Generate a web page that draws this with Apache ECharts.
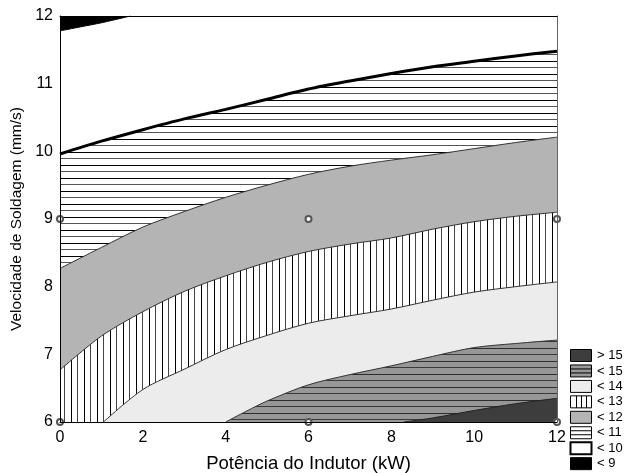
<!DOCTYPE html>
<html>
<head>
<meta charset="utf-8">
<script src="https://cdn.jsdelivr.net/npm/echarts@6/dist/echarts.min.js"></script>
<style>html,body{margin:0;padding:0;background:#fff}#c{width:624px;height:473px}</style>
</head>
<body>
<div id="c"></div>
<script>
// ---- data ----
const xTicks = [0, 2, 4, 6, 8, 10, 12];
const yTicks = [6, 7, 8, 9, 10, 11, 12];
// contour boundaries [power kW, speed mm/s]
const b9  = [[0,11.78],[0.5,11.84],[1,11.9],[1.7,12.0]];
const b10 = [[0,9.96],[1,10.15],[2,10.32],[3,10.48],[4,10.62],[5,10.77],[6,10.92],[7,11.04],[8,11.15],[9,11.25],[10,11.33],[11,11.41],[12,11.48]];
const b11 = [[0,8.27],[1,8.58],[2,8.88],[3,9.11],[4,9.32],[5,9.5],[6,9.66],[7,9.78],[8,9.87],[9,9.95],[10,10.04],[11,10.13],[12,10.21]];
const b12 = [[0,6.77],[1,7.27],[2,7.63],[3,7.93],[4,8.16],[5,8.36],[6,8.52],[7,8.63],[8,8.72],[9,8.85],[10,8.96],[11,9.04],[12,9.1]];
const b13 = [[1.05,6.0],[2,6.48],[3,6.78],[4,7.07],[5,7.28],[6,7.46],[7,7.57],[8,7.67],[9,7.8],[10,7.92],[11,8.0],[12,8.07]];
const b14 = [[4,6.0],[4.5,6.16],[5,6.31],[6,6.55],[7,6.7],[8,6.83],[9,6.97],[10,7.1],[11,7.16],[12,7.21]];
const b15 = [[8.3,6.0],[9,6.06],[10,6.17],[11,6.27],[12,6.35]];
const designPts = [[0,9],[6,9],[12,9],[0,6],[6,6],[12,6]];
const legendLabels = ['> 15','< 15','< 14','< 13','< 12','< 11','< 10','< 9'];

// ---- patterns ----
function pattern(bg, lineA, lineB, dir, posA, posB) {
  const c = document.createElement('canvas');
  c.width = 13; c.height = 13;
  const g = c.getContext('2d');
  g.fillStyle = bg; g.fillRect(0,0,13,13);
  g.fillStyle = lineA;
  if (dir === 'h') g.fillRect(0,posA,13,1); else g.fillRect(posA,0,1,13);
  g.fillStyle = lineB;
  if (dir === 'h') g.fillRect(0,posB,13,1); else g.fillRect(posB,0,1,13);
  return {image: c, repeat: 'repeat'};
}
const hatchH = pattern('#ffffff', '#000000', '#555555', 'h', 9, 2);
const hatchV = pattern('#ffffff', '#000000', '#444444', 'v', 6, 12);
const hatchMid = pattern('#979797', '#2e2e2e', '#3a3a3a', 'h', 10, 3);

const FONT = 'Liberation Sans, Arial, sans-serif';

function band(name, data, fill, origin, lineColor, lineWidth) {
  return {
    name: name, type: 'line', data: data, symbol: 'none',
    smooth: 0.3, clip: true,
    lineStyle: {color: lineColor, width: lineWidth},
    areaStyle: {color: fill, opacity: 1, origin: origin},
    emphasis: {disabled: true}, silent: true, animation: false
  };
}

const chart = echarts.init(document.getElementById('c'), null, {renderer: 'canvas'});

// legend boxes (graphic)
const legendGraphics = [];
const lx = 570, lw = 21, lh = 12;
const fills = ['#3d3d3d', '#979797', '#ececec', '#ffffff', '#b4b4b4', '#ffffff', '#ffffff', '#000000'];
legendLabels.forEach(function (lab, i) {
  const top = 349 + i * 15.45;
  const kids = [];
  kids.push({type: 'rect', shape: {x: lx + 0.5, y: top + 0.5, width: lw, height: lh},
    style: {fill: fills[i], stroke: '#000', lineWidth: i === 6 ? 2 : 1}});
  if (i === 1 || i === 5) {
    [4, 8].forEach(function (dy) {
      kids.push({type: 'line', shape: {x1: lx + 0.5, y1: top + dy + 0.5, x2: lx + lw + 0.5, y2: top + dy + 0.5},
        style: {stroke: '#000', lineWidth: 1}});
    });
  }
  if (i === 3) {
    [6, 11, 16].forEach(function (dx) {
      kids.push({type: 'line', shape: {x1: lx + dx + 0.5, y1: top + 0.5, x2: lx + dx + 0.5, y2: top + lh + 0.5},
        style: {stroke: '#000', lineWidth: 1}});
    });
  }
  kids.push({type: 'text', x: 597, y: top + 6.5,
    style: {text: lab, fill: '#000', font: '13px ' + FONT, verticalAlign: 'middle'}});
  legendGraphics.push({type: 'group', children: kids});
});

const axisLabelStyle = {fontSize: 16, color: '#000', fontFamily: FONT};

chart.setOption({
  animation: false,
  backgroundColor: '#fff',
  grid: {left: 60, right: 67, top: 16, bottom: 51, containLabel: false, outerBoundsMode: 'none'},
  xAxis: [{
    type: 'value', min: xTicks[0], max: xTicks[xTicks.length-1], interval: 2, position: 'bottom',
    axisLine: {show: true, onZero: false, lineStyle: {color: '#000', width: 1}},
    axisTick: {show: false}, splitLine: {show: false},
    axisLabel: Object.assign({margin: 8}, axisLabelStyle),
    name: 'Potência do Indutor (kW)', nameLocation: 'middle', nameGap: 32,
    nameTextStyle: {fontSize: 18.5, color: '#000', fontFamily: FONT}, z: 10
  }, {
    type: 'value', min: 0, max: 12, position: 'top',
    axisLine: {show: true, onZero: false, lineStyle: {color: '#000', width: 1}},
    axisTick: {show: false}, splitLine: {show: false}, axisLabel: {show: false}, z: 10
  }],
  yAxis: [{
    type: 'value', min: yTicks[0], max: yTicks[yTicks.length-1], interval: 1, position: 'left',
    axisLine: {show: true, onZero: false, lineStyle: {color: '#000', width: 1}},
    axisTick: {show: false}, splitLine: {show: false},
    axisLabel: Object.assign({margin: 7}, axisLabelStyle),
    name: 'Velocidade de Soldagem (mm/s)', nameLocation: 'middle', nameGap: 34,
    nameTextStyle: {fontSize: 15.5, color: '#000', fontFamily: FONT}, z: 10
  }, {
    type: 'value', min: 6, max: 12, position: 'right',
    axisLine: {show: true, onZero: false, lineStyle: {color: '#666', width: 1}},
    axisTick: {show: false}, splitLine: {show: false}, axisLabel: {show: false}, z: 10
  }],
  series: [
    band('< 9', b9, '#000000', 'end', '#000', 1),
    band('< 11', b10, hatchH, 'start', '#000', 3),
    band('< 12', b11, '#b4b4b4', 'start', '#333', 1),
    band('< 13', b12, hatchV, 'start', '#333', 1),
    band('< 14', b13, '#ececec', 'start', '#333', 1),
    band('< 15', b14, hatchMid, 'start', '#333', 1),
    band('> 15', b15, '#3d3d3d', 'start', '#222', 1),
    {
      name: 'pontos', type: 'scatter', data: designPts, symbol: 'emptyCircle', symbolSize: 6,
      itemStyle: {color: '#555', borderWidth: 1.2, opacity: 1},
      clip: true, silent: true, z: 5
    }
  ],
  graphic: legendGraphics
});
</script>
</body>
</html>
